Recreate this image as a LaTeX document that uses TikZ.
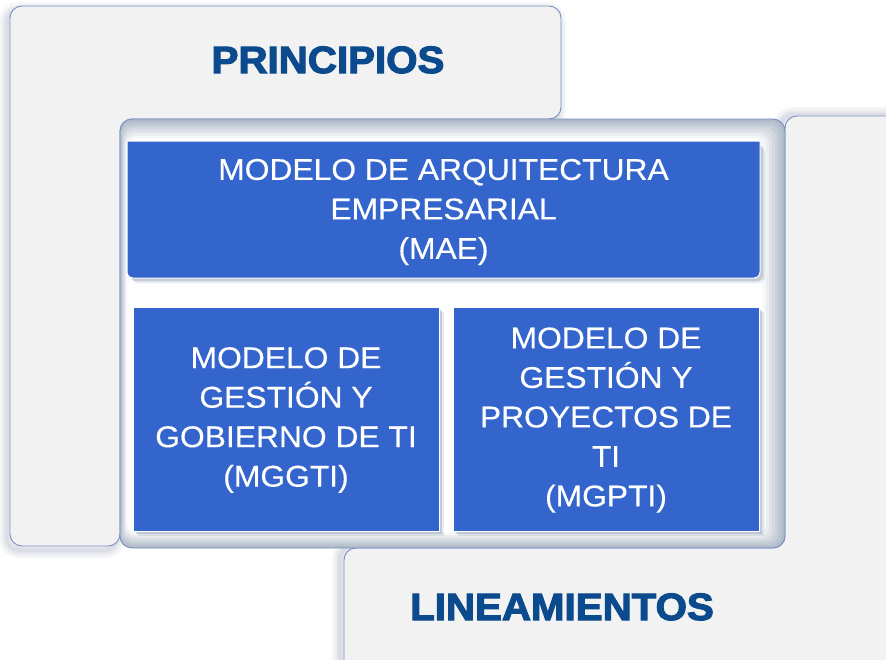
\documentclass[tikz,border=0pt]{standalone}
\usepackage{fontspec}
\setmainfont{Liberation Sans}
\newfontfamily\boxfont[FakeStretch=1.06,FakeBold=0.3]{Liberation Sans}
\newfontfamily\titlefont[FakeStretch=1.06,FakeBold=3]{Liberation Sans}
\definecolor{panel}{HTML}{F2F2F2}
\definecolor{panelline}{HTML}{7A90C4}
\definecolor{boxblue}{HTML}{3465CC}
\definecolor{titleblue}{HTML}{0B4A8C}
\definecolor{bevel}{HTML}{AEBAC7}
\definecolor{shadowc}{HTML}{5E7390}
\tikzset{
  panelshape/.style={fill=panel, draw=panelline, line width=0.9pt, rounded corners=12pt},
  glow/.style={draw=shadowc, opacity=0.06, rounded corners=12pt},
  bluebox/.style={fill=boxblue, draw=white, line width=1pt},
  boxtext/.style={text=white, align=center, inner sep=0pt,
    font=\boxfont\fontsize{30pt}{39.5pt}\selectfont},
  titletext/.style={text=titleblue, inner sep=0pt, anchor=base,
    font=\titlefont\bfseries\fontsize{38pt}{40pt}\selectfont}
}
\def\Lone{(10,6) -- (561,6) -- (561,119) -- (120,119) -- (120,546) -- (10,546) -- cycle}
\def\Ltwo{(785,116) -- (920,116) -- (920,690) -- (344,690) -- (344,548) -- (785,548) -- cycle}
\begin{document}
\begin{tikzpicture}[x=1pt,y=-1pt]
\clip (0,0) rectangle (886,659);
\fill[white] (0,0) rectangle (886,659);

% glows of the two L-shaped panels
\foreach \w in {16,11,7,4} {
  \draw[glow, line width=\w pt, shift={(-3,4)}] \Lone;
  \draw[glow, line width=\w pt, shift={(-4,-1)}] \Ltwo;
}
% panels
\draw[panelshape] \Lone;
\draw[panelshape] \Ltwo;

% central bevelled container
\draw[fill=bevel, draw=panelline, line width=0.9pt, rounded corners=12pt] (120,119) rectangle (785,548);
\foreach \i/\p in {2/85,4/70,6/55,8/40,10/25,12/12,14/0} {
  \fill[bevel!\p!white, rounded corners=10pt] (120+\i*0.5,119+\i*1.4) rectangle (785-\i*1.6,548-\i*1.1);
}

% box shadows
\foreach \s/\o in {3/0.25,5/0.15} {
  \fill[shadowc, opacity=\o, rounded corners=6pt] (127+\s,141+\s) rectangle (760+\s,278+\s);
  \fill[shadowc, opacity=\o] (133+\s,307+\s) rectangle (439+\s,531+\s);
  \fill[shadowc, opacity=\o] (453+\s,307+\s) rectangle (759+\s,531+\s);
}

% blue boxes
\draw[bluebox] (127,141) -- (760,141) [rounded corners=6pt] -- (760,278) -- (127,278) [sharp corners] -- cycle;
\draw[bluebox] (133,307) rectangle (439,531);
\draw[bluebox] (453,307) rectangle (759,531);

\node[boxtext] (mae) at (443.5,212) {MODELO DE ARQUITECTURA\\EMPRESARIAL\\(MAE)};
\node[boxtext] (mggti) at (286,420) {MODELO DE\\GESTIÓN Y\\GOBIERNO DE TI\\(MGGTI)};
\node[boxtext] (mgpti) at (606,420) {MODELO DE\\GESTIÓN Y\\PROYECTOS DE\\TI\\(MGPTI)};

% titles
\node[titletext] (principios) at (328,73) {PRINCIPIOS};
\node[titletext] (lineamientos) at (562,620) {LINEAMIENTOS};
\end{tikzpicture}
\end{document}
